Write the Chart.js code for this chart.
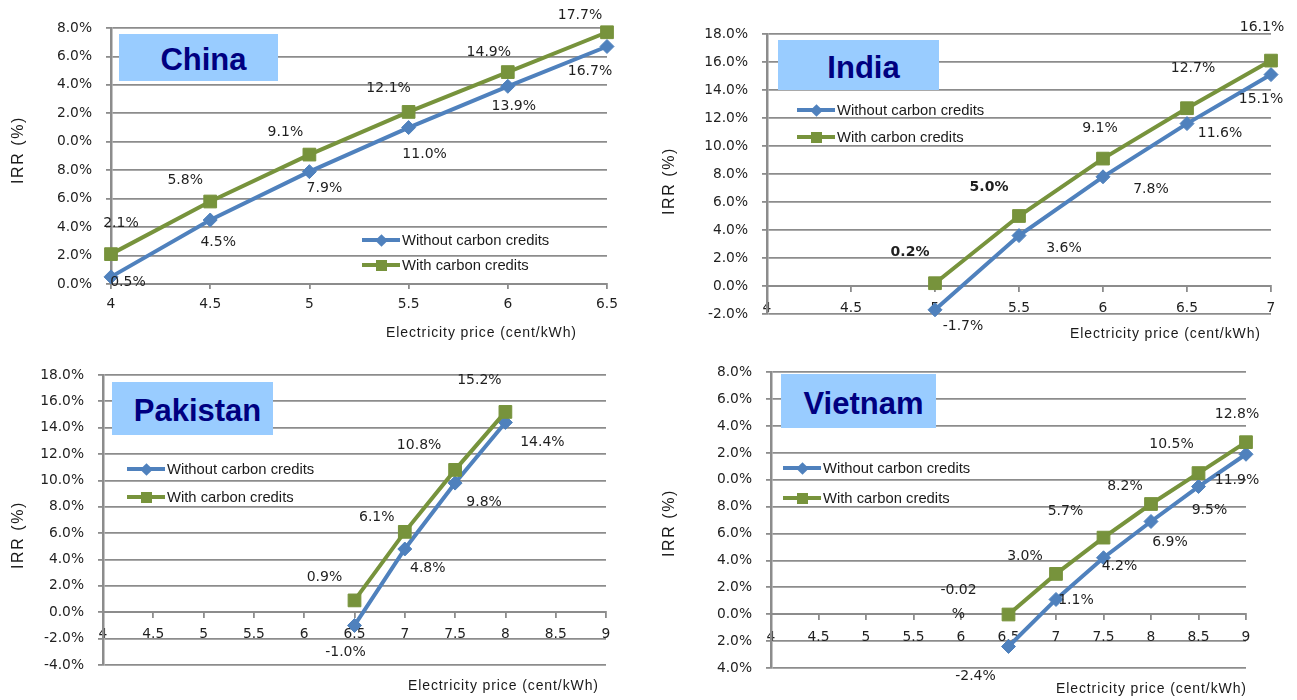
<!DOCTYPE html>
<html><head><meta charset="utf-8">
<script src="https://cdn.jsdelivr.net/npm/chart.js@4.4.1/dist/chart.umd.min.js"></script>
<style>
html,body{margin:0;padding:0;background:#fff;width:1297px;height:700px;overflow:hidden;position:relative;font-family:"Liberation Sans",Arial,sans-serif;}
canvas{position:absolute;}
.tbox{position:absolute;background:#99ccff;color:#000080;font:bold 31px "Liberation Sans",Arial,sans-serif;display:flex;align-items:center;justify-content:center;box-sizing:border-box;z-index:2;}
.xt{position:absolute;font-size:14px;line-height:16px;letter-spacing:0.9px;color:#1a1a1a;white-space:nowrap;z-index:2;}
.yt{position:absolute;font-size:16px;line-height:18px;letter-spacing:1.6px;color:#1a1a1a;white-space:nowrap;transform:translate(-50%,-50%) rotate(-90deg);z-index:2;}
.lg{position:absolute;z-index:2;}
.lgt{position:absolute;font-size:14.8px;line-height:18px;color:#1a1a1a;white-space:nowrap;z-index:2;}
</style></head><body>
<script>
// ---------------- data ----------------
const seriesNames = ['Without carbon credits', 'With carbon credits'];
const countryNames = ['China', 'India', 'Pakistan', 'Vietnam'];
const xAxisTitle = 'Electricity price (cent/kWh)';
const yAxisTitle = 'IRR (%)';

const chinaPrices  = [4, 4.5, 5, 5.5, 6, 6.5];
const chinaWithout = [0.5, 4.5, 7.9, 11.0, 13.9, 16.7];
const chinaWith    = [2.1, 5.8, 9.1, 12.1, 14.9, 17.7];
const chinaXTicks  = ['4', '4.5', '5', '5.5', '6', '6.5'];
const chinaYTicks  = ['8.0%', '6.0%', '4.0%', '2.0%', '0.0%', '8.0%', '6.0%', '4.0%', '2.0%', '0.0%'];

const indiaPrices  = [5, 5.5, 6, 6.5, 7];
const indiaWithout = [-1.7, 3.6, 7.8, 11.6, 15.1];
const indiaWith    = [0.2, 5.0, 9.1, 12.7, 16.1];
const indiaXTicks  = ['4', '4.5', '5', '5.5', '6', '6.5', '7'];
const indiaYTicks  = ['18.0%', '16.0%', '14.0%', '12.0%', '10.0%', '8.0%', '6.0%', '4.0%', '2.0%', '0.0%', '-2.0%'];

const pakistanPrices  = [6.5, 7, 7.5, 8];
const pakistanWithout = [-1.0, 4.8, 9.8, 14.4];
const pakistanWith    = [0.9, 6.1, 10.8, 15.2];
const pakistanXTicks  = ['4', '4.5', '5', '5.5', '6', '6.5', '7', '7.5', '8', '8.5', '9'];
const pakistanYTicks  = ['18.0%', '16.0%', '14.0%', '12.0%', '10.0%', '8.0%', '6.0%', '4.0%', '2.0%', '0.0%', '-2.0%', '-4.0%'];

const vietnamPrices  = [6.5, 7, 7.5, 8, 8.5, 9];
const vietnamWithout = [-2.4, 1.1, 4.2, 6.9, 9.5, 11.9];
const vietnamWith    = [-0.02, 3.0, 5.7, 8.2, 10.5, 12.8];
const vietnamXTicks  = ['4', '4.5', '5', '5.5', '6', '6.5', '7', '7.5', '8', '8.5', '9'];
const vietnamYTicks  = ['8.0%', '6.0%', '4.0%', '2.0%', '0.0%', '8.0%', '6.0%', '4.0%', '2.0%', '0.0%', '2.0%', '4.0%'];

// ---------------- layout / style ----------------
const BLUE = '#4F81BD', GREEN = '#77933C', GRID = '#8c8c8c', TXT = '#1f1f1f';
const TICK_FONT = {family: '"DejaVu Sans"', size: 13.8};

const panels = [
  {name: countryNames[0], prices: chinaPrices, without: chinaWithout, with: chinaWith, xTicks: chinaXTicks, yTicks: chinaYTicks,
   xMin: 4, xMax: 6.5, yMin: 0, yMax: 18,
   canvas: [0, 0, 650, 345], yWidth: 111, padTop: 28, padRight: 43, padBottom: 0, xHeight: 61, xAtZero: false, xPad: 7,
   withOff: [[10,-31],[-25,-21],[-24,-22],[-20,-24],[-19,-20],[-27,-17]],
   withoutOff: [[17,5],[8,22],[15,17],[16,27],[6,20],[-17,25]],
   withBold: [],
   box: [119, 34, 159, 47], legend: [362, 240, 25], xTitle: [386, 332], yTitle: [18, 150]},
  {name: countryNames[1], prices: indiaPrices, without: indiaWithout, with: indiaWith, xTicks: indiaXTicks, yTicks: indiaYTicks,
   xMin: 4, xMax: 7, yMin: -2, yMax: 18,
   canvas: [650, 0, 647, 345], yWidth: 117, padTop: 34, padRight: 26, padBottom: 31, xAtZero: true, xPad: 9,
   withOff: [[-25,-31],[-30,-29],[-3,-30],[6,-40],[-9,-33]],
   withoutOff: [[28,17],[45,13],[48,13],[33,10],[-10,25]],
   withBold: [true, true],
   box: [778, 40, 161, 50], legend: [797, 110, 27], xTitle: [1070, 333], yTitle: [669, 181]},
  {name: countryNames[2], prices: pakistanPrices, without: pakistanWithout, with: pakistanWith, xTicks: pakistanXTicks, yTicks: pakistanYTicks,
   xMin: 4, xMax: 9, yMin: -4, yMax: 18,
   canvas: [0, 350, 650, 350], yWidth: 103, padTop: 25, padRight: 44, padBottom: 35, xAtZero: true, xPad: 9,
   withOff: [[-30,-23],[-28,-15],[-36,-25],[-26,-32]],
   withoutOff: [[-9,27],[23,19],[29,19],[37,20]],
   withBold: [],
   box: [112, 382, 161, 53], legend: [127, 469, 28], xTitle: [408, 685], yTitle: [18, 535]},
  {name: countryNames[3], prices: vietnamPrices, without: vietnamWithout, with: vietnamWith, xTicks: vietnamXTicks, yTicks: vietnamYTicks,
   xMin: 4, xMax: 9, yMin: -4, yMax: 18,
   canvas: [650, 350, 647, 350], yWidth: 121, padTop: 17, padRight: 51, padBottom: 32, xAtZero: true, xPad: 10,
   withOff: [[-50,-12],[-31,-18],[-38,-26],[-26,-18],[-27,-29],[-9,-28]],
   withoutOff: [[-33,30],[20,1],[16,9],[19,21],[11,24],[-9,26]],
   withBold: [],
   box: [781, 374, 155, 54], legend: [783, 468, 30], xTitle: [1056, 688], yTitle: [669, 523]}
];

function fmtPct(v) {
  const r = Math.round(v * 10) / 10;
  return (Math.abs(r - v) < 1e-9 ? v.toFixed(1) : String(v)) + '%';
}

const pointLabelPlugin = {
  id: 'pointLabels',
  afterDatasetsDraw(chart) {
    const ctx = chart.ctx;
    chart.data.datasets.forEach((ds, di) => {
      const meta = chart.getDatasetMeta(di);
      meta.data.forEach((pt, i) => {
        const text = fmtPct(ds.data[i].y);
        const off = ds.labelOffsets[i];
        const bold = ds.boldLabels && ds.boldLabels[i];
        ctx.save();
        ctx.font = (bold ? 'bold ' : '') + '14px "DejaVu Sans"';
        ctx.fillStyle = TXT;
        ctx.textAlign = 'center';
        ctx.textBaseline = 'middle';
        let lines = [text];
        if (ctx.measureText(text).width > 47) lines = [text.slice(0, -1), '%'];
        const lh = 24;
        lines.forEach((ln, k) => ctx.fillText(ln, pt.x + off[0], pt.y + off[1] + (k - (lines.length - 1) / 2) * lh));
        ctx.restore();
      });
    });
  }
};

function el(cls, css, text) {
  const d = document.createElement('div');
  if (cls) d.className = cls;
  Object.assign(d.style, css);
  if (text !== undefined) d.textContent = text;
  document.body.appendChild(d);
  return d;
}

function makePanel(p) {
  const [cl, ct, cw, ch] = p.canvas;
  const cv = document.createElement('canvas');
  cv.width = cw; cv.height = ch;
  Object.assign(cv.style, {left: cl + 'px', top: ct + 'px', width: cw + 'px', height: ch + 'px'});
  document.body.appendChild(cv);
  const pts = ys => p.prices.map((x, i) => ({x: x, y: ys[i]}));
  const yTicksBottomUp = p.yTicks.slice().reverse();
  new Chart(cv, {
    type: 'line',
    data: {datasets: [
      {label: seriesNames[1], data: pts(p.with), borderColor: GREEN, backgroundColor: GREEN, borderWidth: 4,
       pointStyle: 'rect', pointRadius: 9, pointBorderWidth: 1, pointBackgroundColor: GREEN, pointBorderColor: GREEN,
       clip: false, tension: 0, labelOffsets: p.withOff, boldLabels: p.withBold},
      {label: seriesNames[0], data: pts(p.without), borderColor: BLUE, backgroundColor: BLUE, borderWidth: 4,
       pointStyle: 'rectRot', pointRadius: 7, pointBorderWidth: 1, pointBackgroundColor: BLUE, pointBorderColor: BLUE,
       clip: false, tension: 0, labelOffsets: p.withoutOff, boldLabels: []}
    ]},
    options: {
      responsive: false, animation: false, devicePixelRatio: 1,
      layout: {padding: {top: p.padTop, right: p.padRight, bottom: p.padBottom, left: 0}},
      plugins: {legend: {display: false}, tooltip: {enabled: false}},
      scales: {
        x: {
          type: 'linear', position: p.xAtZero ? {y: 0} : 'bottom', min: p.xMin, max: p.xMax,
          ticks: {stepSize: 0.5, autoSkip: false, maxRotation: 0, padding: p.xPad, font: TICK_FONT, color: TXT,
                  callback: (v, i) => p.xTicks[i]},
          grid: {drawOnChartArea: false, drawTicks: true, tickLength: 5, color: GRID, lineWidth: 1.8},
          border: {display: true, color: GRID, width: 2},
          afterFit: s => { if (!p.xAtZero) s.height = p.xHeight; }
        },
        y: {
          type: 'linear', position: 'left', min: p.yMin, max: p.yMax,
          ticks: {stepSize: 2, autoSkip: false, padding: 14, font: TICK_FONT, color: TXT,
                  callback: (v, i) => yTicksBottomUp[i]},
          grid: {drawOnChartArea: true, drawTicks: true, tickLength: 5, color: GRID, lineWidth: 1.8},
          border: {display: true, color: GRID, width: 2.5},
          afterFit: s => { s.width = p.yWidth; }
        }
      }
    },
    plugins: [pointLabelPlugin]
  });

  // title box
  const [bx, by, bw, bh] = p.box;
  el('tbox', {left: bx + 'px', top: by + 'px', width: bw + 'px', height: bh + 'px', paddingLeft: '10px', paddingTop: '5px'}, p.name);
  // axis titles
  el('xt', {left: p.xTitle[0] + 'px', top: (p.xTitle[1] - 8) + 'px'}, xAxisTitle);
  el('yt', {left: p.yTitle[0] + 'px', top: p.yTitle[1] + 'px'}, yAxisTitle);
  // legend
  const [lx, ly, lgap] = p.legend;
  [[seriesNames[0], BLUE, 'diamond'], [seriesNames[1], GREEN, 'square']].forEach((it, k) => {
    const cy = ly + k * lgap;
    el('lg', {left: lx + 'px', top: (cy - 2) + 'px', width: '38px', height: '4px', background: it[1]});
    if (it[2] === 'diamond') {
      el('lg', {left: (lx + 19 - 4.5) + 'px', top: (cy - 4.5) + 'px', width: '9px', height: '9px', background: it[1], transform: 'rotate(45deg)'});
    } else {
      el('lg', {left: (lx + 19 - 5.5) + 'px', top: (cy - 5.5) + 'px', width: '11px', height: '11px', background: it[1]});
    }
    el('lgt', {left: (lx + 40) + 'px', top: (cy - 9) + 'px'}, it[0]);
  });
}

panels.forEach(makePanel);
</script>
</body></html>
